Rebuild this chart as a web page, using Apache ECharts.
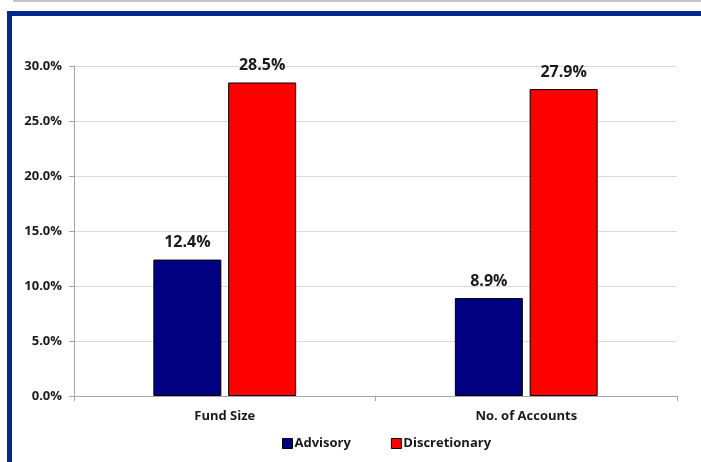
<!DOCTYPE html>
<html>
<head>
<meta charset="utf-8">
<script src="https://cdn.jsdelivr.net/npm/echarts@6/dist/echarts.min.js"></script>
<style>
  html, body { margin: 0; padding: 0; background: #fff; }
  #barChart { width: 701px; height: 462px; }
</style>
</head>
<body>
<div id="barChart"></div>
<script>
// data
const categories = ['Fund Size', 'No. of Accounts'];
const advisory = [12.4, 8.9];
const discretionary = [28.5, 27.9];

const myChart = echarts.init(document.getElementById('barChart'));
const labelStyle = {
  show: true,
  position: 'top',
  distance: 9,
  formatter: p => p.value.toFixed(1) + '%',
  color: '#1a1a1a',
  fontWeight: 'bold',
  fontSize: 16,
  fontFamily: 'Open Sans'
};

myChart.setOption({
  backgroundColor: '#fff',
  animation: false,
  graphic: [
    { type: 'rect', shape: { x: 13, y: 0, width: 690, height: 2 }, style: { fill: '#c4c4c4' } },
    { type: 'rect', shape: { x: 7, y: 11, width: 700, height: 5 }, style: { fill: '#00298c' } },
    { type: 'rect', shape: { x: 7, y: 11, width: 5, height: 460 }, style: { fill: '#00298c' } }
  ],
  grid: { left: 74, right: 24, top: 66, bottom: 66 },
  legend: {
    left: 277,
    top: 432,
    itemWidth: 10,
    itemHeight: 10,
    itemGap: 40,
    icon: 'rect',
    itemStyle: { borderColor: '#000', borderWidth: 1 },
    textStyle: { color: '#1a1a1a', fontWeight: 'bold', fontSize: 13, fontFamily: 'Open Sans', padding: [0, 0, 0, -3] },
    data: ['Advisory', 'Discretionary']
  },
  xAxis: {
    type: 'category',
    data: categories,
    axisLine: { lineStyle: { color: '#a6a6a6' } },
    axisTick: { show: true, length: 5, lineStyle: { color: '#a6a6a6' } },
    axisLabel: { color: '#1a1a1a', fontWeight: 'bold', fontSize: 13, fontFamily: 'Open Sans', margin: 14 }
  },
  yAxis: {
    type: 'value',
    min: 0,
    max: 30,
    interval: 5,
    axisLine: { show: true, lineStyle: { color: '#a6a6a6' } },
    axisTick: { show: true, length: 5, lineStyle: { color: '#a6a6a6' } },
    axisLabel: {
      formatter: v => v.toFixed(1) + '%',
      color: '#1a1a1a', fontWeight: 'bold', fontSize: 13, fontFamily: 'Open Sans', margin: 12
    },
    splitLine: { lineStyle: { color: '#d9d9d9' } }
  },
  series: [
    {
      name: 'Advisory',
      type: 'bar',
      data: advisory,
      barWidth: 68,
      barGap: '10%',
      itemStyle: { color: '#000080', borderColor: '#000', borderWidth: 1 },
      label: labelStyle
    },
    {
      name: 'Discretionary',
      type: 'bar',
      data: discretionary,
      barWidth: 68,
      barGap: '10%',
      itemStyle: { color: '#ff0000', borderColor: '#000', borderWidth: 1 },
      label: labelStyle
    }
  ]
});
</script>
</body>
</html>
